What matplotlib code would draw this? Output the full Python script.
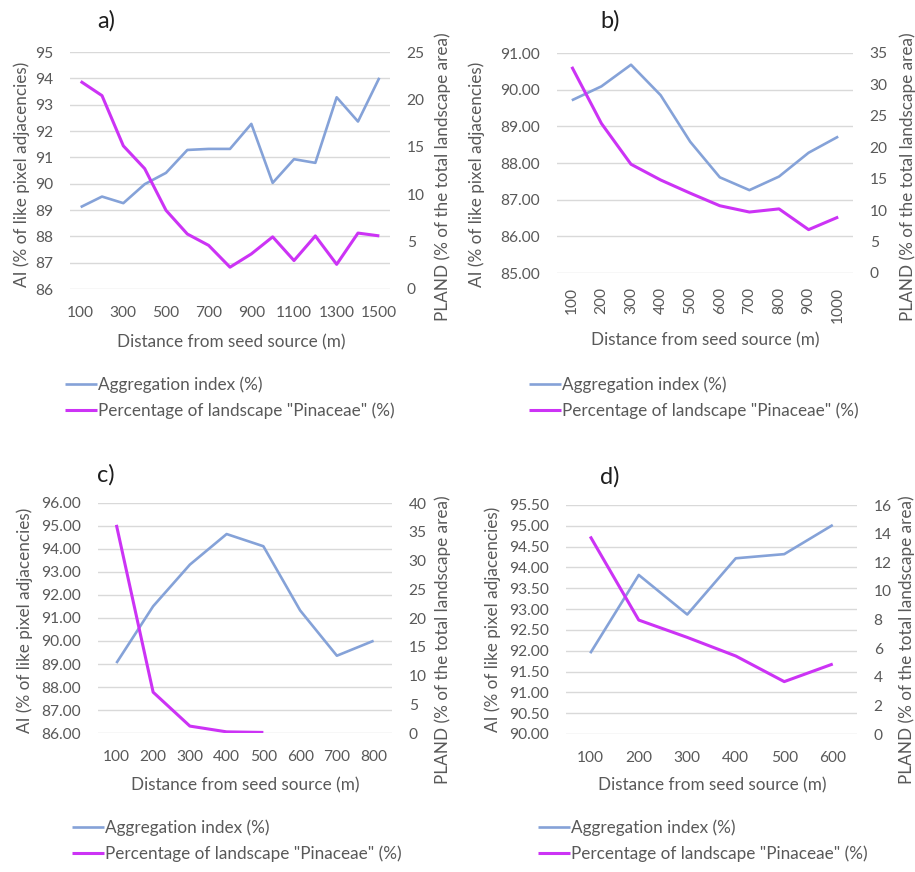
import numpy as np
import matplotlib
matplotlib.use("Agg")
import matplotlib.pyplot as plt

plt.rcParams['font.family'] = ['Lato', 'DejaVu Sans']

# ---- data -------------------------------------------------------------
distance_a = [100, 200, 300, 400, 500, 600, 700, 800, 900, 1000, 1100, 1200, 1300, 1400, 1500]
ai_a = [89.11, 89.51, 89.26, 89.98, 90.41, 91.28, 91.32, 91.32, 92.27, 90.03, 90.93, 90.79, 93.28, 92.36, 94.02]
pland_a = [21.9, 20.4, 15.1, 12.7, 8.3, 5.8, 4.6, 2.3, 3.7, 5.5, 3.0, 5.6, 2.6, 5.9, 5.6]

distance_b = [100, 200, 300, 400, 500, 600, 700, 800, 900, 1000]
ai_b = [89.71, 90.09, 90.68, 89.85, 88.58, 87.61, 87.26, 87.63, 88.28, 88.72]
pland_b = [32.8, 23.8, 17.3, 14.8, 12.7, 10.7, 9.7, 10.2, 6.9, 8.9]

distance_c = [100, 200, 300, 400, 500, 600, 700, 800]
ai_c = [89.04, 91.51, 93.32, 94.65, 94.12, 91.33, 89.36, 90.01]
pland_c = [36.2, 7.1, 1.2, 0.2, 0.1]

distance_d = [100, 200, 300, 400, 500, 600]
ai_d = [91.94, 93.82, 92.87, 94.22, 94.32, 95.02]
pland_d = [13.8, 7.96, 6.75, 5.45, 3.66, 4.89]

panel_letters = ["a)", "b)", "c)", "d)"]
x_title = "Distance from seed source (m)"
ai_title = "AI (% of like pixel adjacencies)"
pland_title = "PLAND (% of the total landscape area)"
series_names = ["Aggregation index (%)", 'Percentage of landscape "Pinaceae" (%)']

# ---- styling ----------------------------------------------------------
BLUE = "#85A2D8"
MAGENTA = "#CC33F5"
TEXT = "#595959"
GRID = "#D9D9D9"
TICK_FS = 11.2
LABEL_FS = 12.3
LEGEND_FS = 12.3
TITLE_FS = 17

W, H = 915, 872
fig = plt.figure(figsize=(W / 100, H / 100), dpi=100)


def fx(x):
    return x / W


def fy(y):
    return 1 - y / H


def rect(l, t, r, b):
    return [fx(l), fy(b), (r - l) / W, (b - t) / H]


panels = [
    dict(dist=distance_a, ai=ai_a, pland=pland_a, box=(70, 52, 390, 289),
         ai_ticks=np.arange(86, 95.01, 1), ai_fmt="{:.0f}", pl_ticks=np.arange(0, 25.01, 5),
         xstep=2, rot=0, title=(106, 21), ylab_l=(22, 174), ylab_r=(443, 177),
         xlab=(231, 342), leg=(65, 387)),
    dict(dist=distance_b, ai=ai_b, pland=pland_b, box=(557, 53, 853, 273),
         ai_ticks=np.arange(85, 91.01, 1), ai_fmt="{:.2f}", pl_ticks=np.arange(0, 35.01, 5),
         xstep=1, rot=90, title=(610, 21), ylab_l=(477, 174), ylab_r=(908, 177),
         xlab=(705, 340), leg=(529, 387)),
    dict(dist=distance_c, ai=ai_c, pland=pland_c, box=(98, 503, 392, 733),
         ai_ticks=np.arange(86, 96.01, 1), ai_fmt="{:.2f}", pl_ticks=np.arange(0, 40.01, 5),
         xstep=1, rot=0, title=(106, 475), ylab_l=(25, 620), ylab_r=(443, 640),
         xlab=(245, 785), leg=(72, 830)),
    dict(dist=distance_d, ai=ai_d, pland=pland_d, box=(566, 505, 857, 734),
         ai_ticks=np.arange(90, 95.51, 0.5), ai_fmt="{:.2f}", pl_ticks=np.arange(0, 16.01, 2),
         xstep=1, rot=0, title=(610, 477), ylab_l=(493, 619), ylab_r=(907, 640),
         xlab=(712, 785), leg=(538, 830)),
]

for letter, p in zip(panel_letters, panels):
    ax = fig.add_axes(rect(*p["box"]))
    ax2 = ax.twinx()
    n = len(p["dist"])
    x_ai = np.arange(len(p["ai"]))
    x_pl = np.arange(len(p["pland"]))

    line_ai, = ax.plot(x_ai, p["ai"], color=BLUE, lw=1.9, solid_joinstyle="round",
                       solid_capstyle="butt", zorder=3)
    line_pl, = ax2.plot(x_pl, p["pland"], color=MAGENTA, lw=2.2, solid_joinstyle="round",
                        solid_capstyle="butt", zorder=3)

    ax.set_xlim(-0.5, n - 0.5)
    ax.set_ylim(p["ai_ticks"][0], p["ai_ticks"][-1])
    ax.set_yticks(p["ai_ticks"])
    ax.set_yticklabels([p["ai_fmt"].format(v) for v in p["ai_ticks"]])
    ax2.set_ylim(p["pl_ticks"][0], p["pl_ticks"][-1])
    ax2.set_yticks(p["pl_ticks"])
    ax2.set_yticklabels(["{:.0f}".format(v) for v in p["pl_ticks"]])

    idx = np.arange(0, n, p["xstep"])
    ax.set_xticks(idx)
    ax.set_xticklabels([str(p["dist"][i]) for i in idx], rotation=p["rot"],
                       va="top", ha="center")

    ax.grid(axis="y", color=GRID, lw=1.0, zorder=0)
    ax.set_axisbelow(True)
    for a in (ax, ax2):
        for s in a.spines.values():
            s.set_visible(False)
        a.tick_params(length=0, labelsize=TICK_FS, labelcolor=TEXT)
    ax.tick_params(axis="y", pad=12)
    ax2.tick_params(axis="y", pad=12)
    ax.tick_params(axis="x", pad=12 if p["rot"] == 0 else 10)

    fig.text(fx(p["title"][0]), fy(p["title"][1]), letter, ha="center", va="center",
             fontsize=TITLE_FS, color="#1E1E1E")
    fig.text(fx(p["xlab"][0]), fy(p["xlab"][1]), x_title, ha="center", va="center",
             fontsize=LABEL_FS, color=TEXT)
    fig.text(fx(p["ylab_l"][0]), fy(p["ylab_l"][1]), ai_title, ha="center", va="center",
             rotation=90, fontsize=LABEL_FS, color=TEXT)
    fig.text(fx(p["ylab_r"][0]), fy(p["ylab_r"][1]), pland_title, ha="center", va="center",
             rotation=90, fontsize=LABEL_FS, color=TEXT)

    fig.legend([line_ai, line_pl], series_names, loc="upper left",
               bbox_to_anchor=(fx(p["leg"][0]), fy(p["leg"][1] - 11)),
               frameon=False, fontsize=LEGEND_FS, labelcolor=TEXT,
               handlelength=1.85, handletextpad=0.1, borderpad=0, borderaxespad=0,
               labelspacing=0.55)

fig.savefig("out.png", dpi=100, facecolor="white")
